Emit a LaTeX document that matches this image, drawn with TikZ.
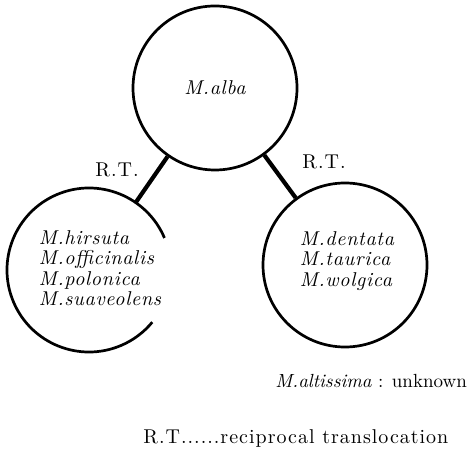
\documentclass[tikz,border=0pt]{standalone}
\usepackage{fontspec}
\setmainfont{lmroman10-regular.otf}[ItalicFont=lmroman10-italic.otf, BoldFont=lmroman10-bold.otf]
\usepackage{tikz}
\usetikzlibrary{calc}

\tikzset{
  group/.style={circle, draw, line width=1.35pt, minimum size=82pt, inner sep=0pt,
    font=\fontsize{10}{10.2}\selectfont\itshape\addfontfeature{LetterSpace=3.5}},
  hidden/.style={circle, minimum size=82pt, inner sep=0pt},
  rt/.style={line width=2.1pt},
  species/.style={align=left, inner sep=0pt,
    font=\fontsize{10}{10.2}\selectfont\itshape\addfontfeature{LetterSpace=3.5}},
  note/.style={inner sep=0pt,
    font=\fontsize{10}{10.2}\selectfont\addfontfeature{LetterSpace=5}}
}

\begin{document}
\begin{tikzpicture}[x=1pt,y=1pt]
\useasboundingbox (0,0) rectangle (234.5,230);
% the three groups
\node[group] (alba) at (107.5,186) {M.alba};
\node[hidden] (mixed) at (44.5,95) {};
\node[group] (eastern) at (172.5,97.5) {};
\draw[line width=1.35pt] ($(mixed.center)+(23:41)$) arc[start angle=23, end angle=320.5, radius=41];

\node[species] (mixedlist) at (50,96) {M.hirsuta\\M.officinalis\\M.polonica\\M.suaveolens};
\node[species] (easternlist) at (173.5,99.5) {M.dentata\\M.taurica\\M.wolgica};

\draw[rt] (alba) -- (mixed);
\draw[rt] (alba) -- (eastern);
\node[note] (rtleft) at (58.5,145) {R.T.};
\node[note] (rtright) at (162,149) {R.T.};

\node[note, anchor=west, font=\fontsize{9.5}{10.2}\selectfont] (unknown) at (137.5,39.5) {\textit{M.altissima} : unknown};
\node[note, anchor=west] (key) at (71.5,11) {R.T......reciprocal translocation};
\end{tikzpicture}
\end{document}
